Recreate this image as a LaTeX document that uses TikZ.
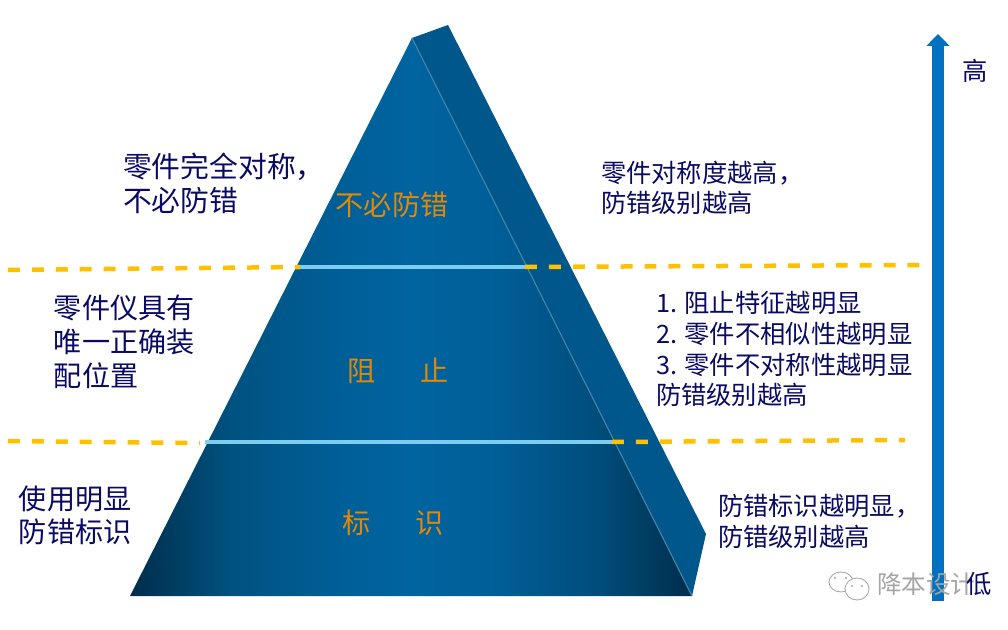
\documentclass[tikz,border=0pt]{standalone}
\usepackage{fontspec}
\usepackage{xcolor}
\setmainfont{Noto Sans CJK SC}
\usetikzlibrary{arrows.meta,positioning}
\definecolor{sideblue}{RGB}{0,87,140}
\definecolor{edgeblue}{RGB}{70,130,170}
\definecolor{tierline}{RGB}{125,205,240}
\definecolor{dashyellow}{RGB}{255,192,0}
\definecolor{scalearrow}{RGB}{0,112,192}
\definecolor{notetext}{RGB}{10,10,100}
\definecolor{tiertext}{RGB}{225,135,10}
\definecolor{markgray}{RGB}{165,165,165}
\definecolor{frontdark}{RGB}{0,45,75}
\definecolor{frontmidl}{RGB}{0,82,128}
\definecolor{frontmid}{RGB}{0,94,150}
\definecolor{fronttop}{RGB}{0,100,160}
\definecolor{frontmidr}{RGB}{0,76,122}
\pgfdeclarehorizontalshading{frontface}{100bp}{
    color(0bp)=(frontdark);
    color(25bp)=(frontdark);
    color(34bp)=(frontmidl);
    color(43bp)=(frontmid);
    color(50bp)=(fronttop);
    color(58bp)=(frontmid);
    color(67bp)=(frontmidr);
    color(75bp)=(frontdark);
    color(100bp)=(frontdark)
}

\begin{document}
\begin{tikzpicture}[
    x=0.025cm, y=-0.025cm,
    every node/.style={inner sep=0pt, outer sep=0pt},
    note/.style={anchor=west, align=left, text=notetext},
    tier/.style={text=tiertext, font=\fontsize{20pt}{24pt}\selectfont},
    dashrule/.style={dashyellow, line width=3.2pt, dash pattern=on 8.5pt off 8.5pt},
    tierrule/.style={tierline, line width=2.4pt},
]
\useasboundingbox (0,0) rectangle (1008,630);

% Pyramid corners
\coordinate (apex) at (412,38);
\coordinate (backtop) at (448,25);
\coordinate (backlow) at (706,534);
\coordinate (baseright) at (692,596);
\coordinate (baseleft) at (130,596);

% Faces
\fill[sideblue] (apex) -- (backtop) -- (backlow) -- (baseright) -- cycle;
\path[shading=frontface] (apex) -- (baseright) -- (baseleft) -- cycle;
\draw[edgeblue, line width=0.8pt] (apex) -- (baseright);

% Tier rules
\coordinate (upperl) at (8,270);
\coordinate (upperm) at (300,267);
\coordinate (upperr) at (525,267);
\coordinate (upperend) at (920,265);
\coordinate (lowerl) at (8,441);
\coordinate (lowerk) at (200,443);
\coordinate (lowerm) at (205,442);
\coordinate (lowerr) at (612,442);
\coordinate (lowerend) at (905,440);
\draw[tierrule] (upperm) -- (upperr);
\draw[tierrule] (lowerm) -- (lowerr);
\draw[dashrule] (upperl) -- (upperm);
\draw[dashrule] (upperr) -- (upperend);
\draw[dashrule] (lowerl) -- (lowerk);
\draw[dashrule] (lowerr) -- (lowerend);

% Scale arrow
\coordinate (scalelow) at (938,601);
\coordinate (scalehigh) at (938,34);
\draw[scalearrow, line width=8.5pt, -{Triangle[width=16pt,length=8.5pt]}] (scalelow) -- (scalehigh);

% Tier names
\node[tier] (top) at (392,205) {不必防错};
\node[tier] (mid) at (398,371) {阻\hspace{1.6em}止};
\node[tier] (low) at (393,523) {标\hspace{1.6em}识};

% Left notes
\node[note, font=\fontsize{20.5pt}{24.2pt}\selectfont] (topleft) at (123,183) {零件完全对称，\\不必防错};
\node[note, font=\fontsize{20pt}{24.2pt}\selectfont] (midleft) at (54,342) {零件仪具有\\唯一正确装\\配位置};
\node[note, font=\fontsize{20pt}{23.6pt}\selectfont] (lowleft) at (19,515) {使用明显\\防错标识};

% Right notes
\node[note, font=\fontsize{18pt}{21.5pt}\selectfont] (topright) at (601,188) {零件对称度越高，\\防错级别越高};
\node[note, font=\fontsize{18pt}{22pt}\selectfont] (midright) at (656,349) {1. 阻止特征越明显\\2. 零件不相似性越明显\\3. 零件不对称性越明显\\防错级别越高};
\node[note, font=\fontsize{18pt}{22pt}\selectfont] (lowright) at (718,521) {防错标识越明显，\\防错级别越高};

% Scale labels
\node[note, font=\fontsize{18pt}{20pt}\selectfont] (high) at (962,71) {高};

% Watermark
\draw[markgray, fill=white, line width=0.6pt] (841,582) ellipse (12 and 10);
\draw[markgray, fill=white, line width=0.6pt] (857,589) ellipse (12 and 11);
\fill[markgray] (835,578) circle (1.2) (846,578) circle (1.2) (852,586) circle (1.2) (862,586) circle (1.2);
\node[anchor=west, text=markgray, font=\fontsize{17.5pt}{20pt}\selectfont] (mark) at (877,584) {降本设计};
\node[note, font=\fontsize{18pt}{20pt}\selectfont] (lowend) at (966,584) {低};
\end{tikzpicture}
\end{document}
